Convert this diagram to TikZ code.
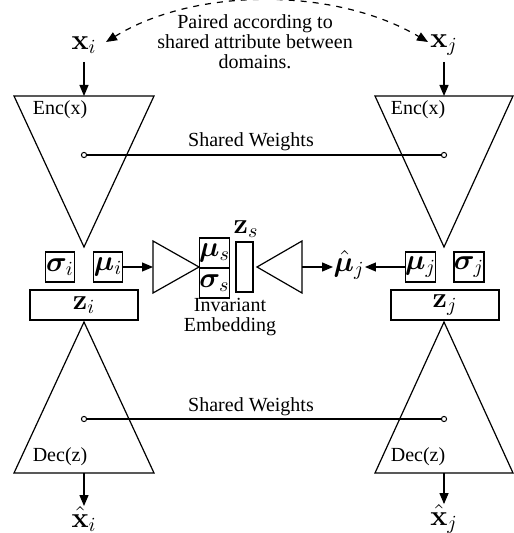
\documentclass[tikz,border=0pt]{standalone}
\usepackage{amsmath,bm}
\usepackage[no-math]{fontspec}
\setmainfont{Liberation Serif}
\usetikzlibrary{arrows.meta}
\begin{document}
\begin{tikzpicture}[x=0.5pt,y=-0.5pt, line width=0.6pt,
  arr/.style={-{Triangle[length=5.5pt,width=4.5pt]}},
  darr/.style={{Triangle[length=5.5pt,width=4.5pt]}-{Triangle[length=5.5pt,width=4.5pt]}},
  txt/.style={font=\rmfamily\fontsize{10}{10}\selectfont, inner sep=0pt},
  mlbl/.style={font=\fontsize{14}{16}\selectfont, inner sep=0pt},
  sqbox/.style={draw, font=\fontsize{14}{16}\selectfont, inner sep=0pt, minimum width=14.5pt, minimum height=15pt},
  zbox/.style={draw, font=\fontsize{14}{16}\selectfont, inner sep=0pt, minimum width=54pt, minimum height=15pt},
  wdot/.style={circle, draw, fill=white, inner sep=0pt, minimum size=2.6pt, line width=0.5pt}]
\useasboundingbox (0,0) rectangle (513,533);

% inputs
\node[mlbl] (xi) at (84,45) {$\mathbf{x}_i$};
\node[mlbl] (xj) at (444,45) {$\mathbf{x}_j$};
\coordinate (enctopi) at (84,96);
\coordinate (enctopj) at (444,96);
\coordinate (xistart) at (84,62);
\coordinate (xjstart) at (444,62);
\draw[arr] (xistart) -- (enctopi);
\draw[arr] (xjstart) -- (enctopj);

% pairing arc
\coordinate (pairL) at (106,42);
\coordinate (pairR) at (428,42);
\draw[darr, dashed] (pairL) .. controls (195,-13) and (335,-13) .. (pairR);
\node[txt, align=center] (paired) at (255,42) {Paired according to\\shared attribute between\\domains.};

% encoders
\draw (14,96) -- (154,96) -- (84,247) -- cycle;
\draw (375,96) -- (513,96) -- (444,247) -- cycle;
\node[txt] (enci) at (60,110) {Enc(x)};
\node[txt] (encj) at (418,110) {Enc(x)};
\node[wdot] (swi) at (84,155) {};
\node[wdot] (swj) at (444,155) {};
\draw (swi) -- (swj);
\node[txt] (sw1) at (251,142) {Shared Weights};

% latent boxes
\node[sqbox] (sigi) at (60,267) {$\bm{\sigma}_i$};
\node[sqbox] (mui) at (108,267) {$\bm{\mu}_i$};
\node[zbox] (zi) at (84,305) {$\mathbf{z}_i$};
\node[sqbox] (muj) at (420.5,267) {$\bm{\mu}_j$};
\node[sqbox] (sigj) at (469,267) {$\bm{\sigma}_j$};
\node[zbox] (zj) at (445,305) {$\mathbf{z}_j$};

% invariant embedding
\draw (153,241) -- (153,293) -- (199,267) -- cycle;
\coordinate (trione) at (153,267);
\draw[arr] (mui.east) -- (trione);
\node[sqbox] (mus) at (214.5,253) {$\bm{\mu}_s$};
\node[sqbox] (sigs) at (214.5,283) {$\bm{\sigma}_s$};
\node[draw, inner sep=0pt, minimum width=8.5pt, minimum height=25pt] (zs) at (244.5,267) {};
\node[mlbl] (zslbl) at (246,229) {$\mathbf{z}_s$};
\draw (302,241) -- (302,293) -- (257,267) -- cycle;
\coordinate (tritwo) at (302,267);
\node[mlbl] (muhat) at (349,265) {$\hat{\bm{\mu}}_j$};
\draw[arr] (tritwo) -- (muhat.west |- tritwo);
\draw[arr] (muj.west) -- (muhat.east |- muj.west);
\node[txt, align=center] (inv) at (230,317) {Invariant\\Embedding};

% decoders
\draw (84,322) -- (154,473) -- (14,473) -- cycle;
\draw (444,322) -- (513,473) -- (375,473) -- cycle;
\node[txt] (deci) at (60,457) {Dec(z)};
\node[txt] (decj) at (418,457) {Dec(z)};
\node[wdot] (sdi) at (84,419) {};
\node[wdot] (sdj) at (444,419) {};
\draw (sdi) -- (sdj);
\node[txt] (sw2) at (251,407) {Shared Weights};
\coordinate (decboti) at (84,473);
\coordinate (decbotj) at (444,473);
\node[mlbl] (xhi) at (84,519) {$\hat{\mathbf{x}}_i$};
\node[mlbl] (xhj) at (444,519) {$\hat{\mathbf{x}}_j$};
\draw[arr] (decboti) -- (xhi.north);
\draw[arr] (decbotj) -- (xhj.north);
\end{tikzpicture}
\end{document}
